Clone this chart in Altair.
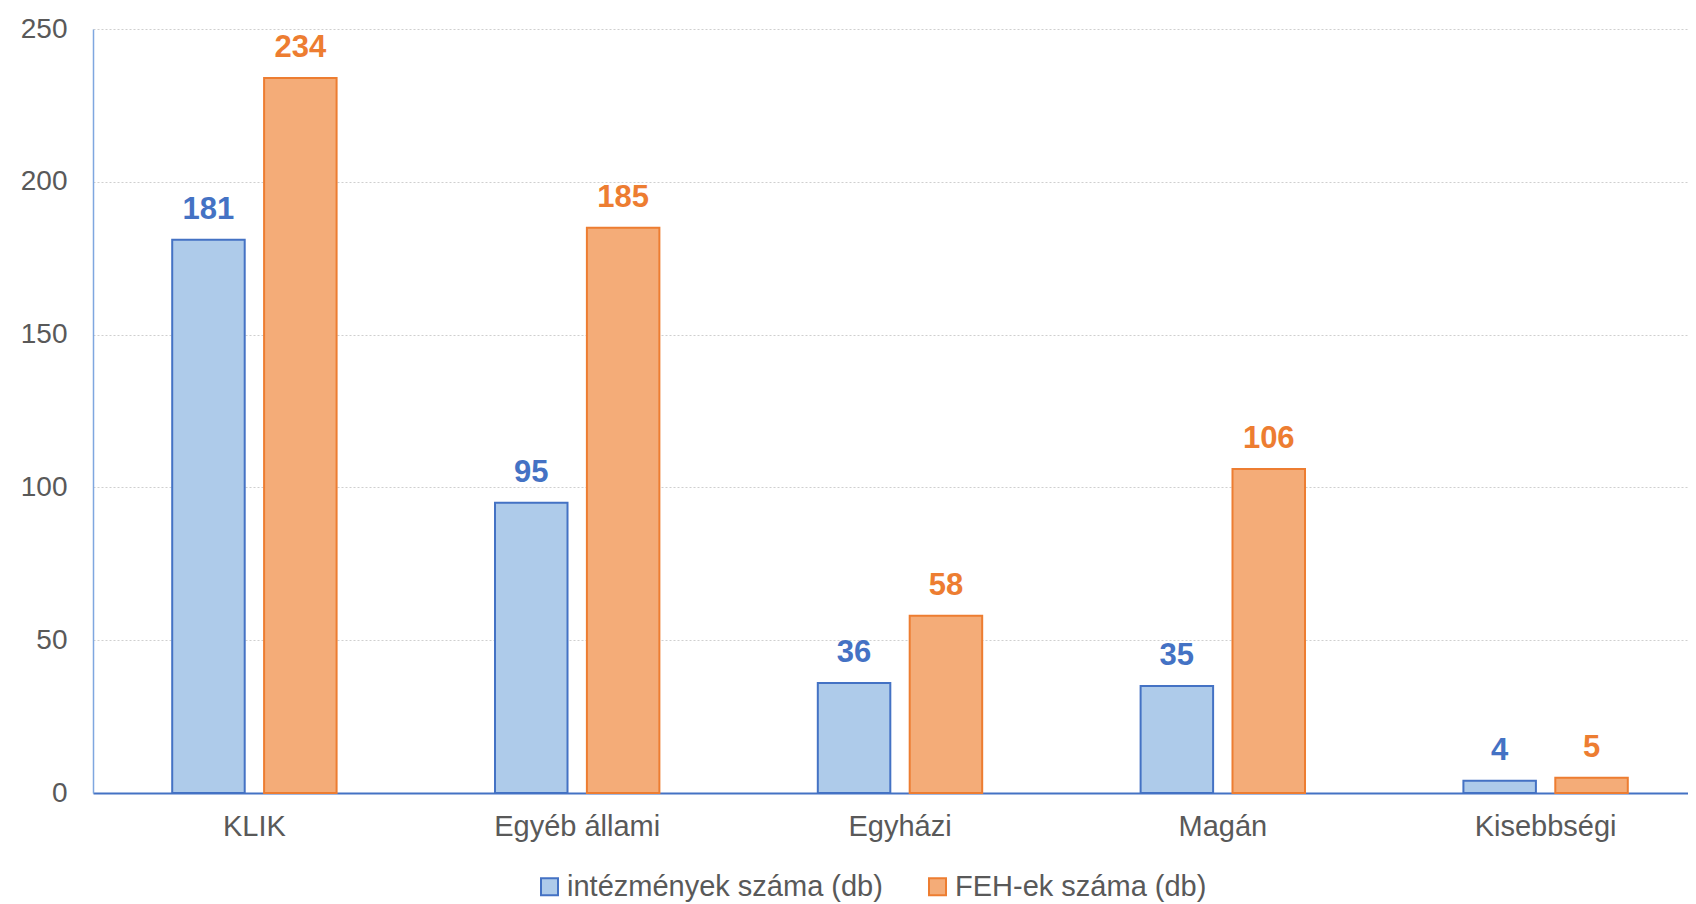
import altair as alt
import pandas as pd

categories = ["KLIK", "Egyéb állami", "Egyházi", "Magán", "Kisebbségi"]
series = ["intézmények száma (db)", "FEH-ek száma (db)"]
intezmenyek = [181, 95, 36, 35, 4]
feh = [234, 185, 58, 106, 5]
y_ticks = [0, 50, 100, 150, 200, 250]

fills = ["#AECBEA", "#F4AC78"]
strokes = ["#4472C4", "#ED7D31"]

rows = []
for c, a, b in zip(categories, intezmenyek, feh):
    rows.append({"kat": c, "sorozat": series[0], "ertek": a})
    rows.append({"kat": c, "sorozat": series[1], "ertek": b})
df = pd.DataFrame(rows)

FONT = "Liberation Sans"

x = alt.X(
    "kat:N",
    sort=categories,
    scale=alt.Scale(range=[0, 1614], paddingInner=0, paddingOuter=0),
    axis=alt.Axis(
        title=None, labelAngle=0, ticks=False, labelFontSize=29, labelColor="#595959",
        labelFont=FONT, labelPadding=19, domainColor="#4472C4", domainWidth=2,
        grid=False,
    ),
)
xo = alt.XOffset(
    "sorozat:N", sort=series,
    scale=alt.Scale(paddingInner=0.211, paddingOuter=0.862),
)
y = alt.Y(
    "ertek:Q",
    scale=alt.Scale(domain=[0, 250], nice=False),
    axis=alt.Axis(
        title=None, values=y_ticks, ticks=False, labelFontSize=28, labelColor="#595959",
        labelFont=FONT, labelPadding=26, domainColor="#7FA7E0", domainWidth=1.5,
        grid=True, gridColor="#CFCFCF", gridDash=[2, 2], gridWidth=1,
    ),
)

legend = alt.Legend(
    title=None, orient="none", legendX=442, legendY=843, direction="horizontal",
    symbolType="square", symbolSize=289, symbolStrokeWidth=2,
    labelFontSize=29, labelColor="#595959", labelFont=FONT, labelLimit=0,
    columnPadding=40, labelOffset=3,
)

bars = alt.Chart(df).mark_bar(strokeWidth=2).encode(
    x=x,
    xOffset=xo,
    y=y,
    color=alt.Color("sorozat:N", sort=series,
                    scale=alt.Scale(domain=series, range=fills), legend=legend),
    stroke=alt.Stroke("sorozat:N", sort=series,
                      scale=alt.Scale(domain=series, range=strokes), legend=legend),
)

labels = alt.Chart(df).mark_text(
    fontSize=31, fontWeight="bold", font=FONT, dy=-21, baseline="alphabetic"
).encode(
    x=x,
    xOffset=xo,
    y=y,
    text=alt.Text("ertek:Q"),
    fill=alt.condition(alt.datum.sorozat == series[0], alt.value(strokes[0]), alt.value(strokes[1])),
)

chart = alt.layer(bars, labels).properties(
    width=1595, height=764,
    autosize=alt.AutoSizeParams(type="none"),
    padding={"left": 85, "top": 21, "right": 0, "bottom": 110},
    background="white",
).configure_view(stroke=None)

chart.save("out.html", embed_options={"renderer": "svg", "actions": False})
